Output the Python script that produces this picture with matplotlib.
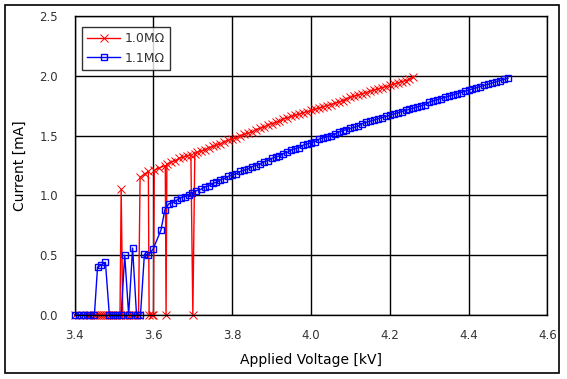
import matplotlib
matplotlib.use('Agg')
import matplotlib.pyplot as plt
from matplotlib.patches import Rectangle

# 1.0 MOhm series (kV, mA)
v_10 = [3.400, 3.410, 3.420, 3.430, 3.440, 3.450, 3.455, 3.460, 3.465, 3.470,
        3.475, 3.480, 3.485, 3.490, 3.495, 3.500, 3.505, 3.510, 3.515, 3.518,
        3.522, 3.530, 3.535, 3.540, 3.545, 3.550, 3.555, 3.562, 3.566, 3.578,
        3.587, 3.589, 3.597, 3.600, 3.602, 3.615, 3.630, 3.632, 3.634, 3.645,
        3.655, 3.665, 3.675, 3.685, 3.695, 3.700, 3.705,
        3.71, 3.72, 3.73, 3.74, 3.75, 3.76, 3.77, 3.78, 3.79, 3.80,
        3.81, 3.82, 3.83, 3.84, 3.85, 3.86, 3.87, 3.88, 3.89, 3.90,
        3.91, 3.92, 3.93, 3.94, 3.95, 3.96, 3.97, 3.98, 3.99, 4.00,
        4.01, 4.02, 4.03, 4.04, 4.05, 4.06, 4.07, 4.08, 4.09, 4.10,
        4.11, 4.12, 4.13, 4.14, 4.15, 4.16, 4.17, 4.18, 4.19, 4.20,
        4.21, 4.22, 4.23, 4.24, 4.25, 4.26]
i_10 = [0, 0, 0, 0, 0, 0, 0, 0, 0, 0,
        0, 0, 0, 0, 0, 0, 0, 0, 0, 1.05,
        0, 0, 0, 0, 0, 0, 0, 0, 1.15, 1.18,
        1.20, 0, 0, 0, 1.21, 1.23, 1.25, 0, 1.26, 1.28,
        1.29, 1.31, 1.32, 1.33, 1.34, 0, 1.35,
        1.36, 1.37, 1.38, 1.40, 1.41, 1.42, 1.43, 1.45, 1.46, 1.47,
        1.48, 1.50, 1.51, 1.52, 1.53, 1.55, 1.56, 1.57, 1.59, 1.60,
        1.61, 1.62, 1.64, 1.65, 1.66, 1.67, 1.68, 1.69, 1.70, 1.71,
        1.72, 1.73, 1.74, 1.75, 1.76, 1.77, 1.78, 1.79, 1.81, 1.82,
        1.83, 1.84, 1.85, 1.86, 1.87, 1.88, 1.89, 1.90, 1.91, 1.92,
        1.93, 1.94, 1.95, 1.96, 1.97, 1.99]

# 1.1 MOhm series (kV, mA)
v_11 = [3.40, 3.41, 3.42, 3.43, 3.44, 3.45, 3.458, 3.468, 3.478, 3.488,
        3.498, 3.508, 3.518, 3.527, 3.537, 3.547, 3.557, 3.567, 3.577, 3.587,
        3.599, 3.619, 3.629, 3.639, 3.649, 3.659, 3.669, 3.679, 3.689, 3.699,
        3.709,
        3.72, 3.73, 3.74, 3.75, 3.76, 3.77, 3.78, 3.79, 3.80,
        3.81, 3.82, 3.83, 3.84, 3.85, 3.86, 3.87, 3.88, 3.89, 3.90,
        3.91, 3.92, 3.93, 3.94, 3.95, 3.96, 3.97, 3.98, 3.99, 4.00,
        4.01, 4.02, 4.03, 4.04, 4.05, 4.06, 4.07, 4.08, 4.09, 4.10,
        4.11, 4.12, 4.13, 4.14, 4.15, 4.16, 4.17, 4.18, 4.19, 4.20,
        4.21, 4.22, 4.23, 4.24, 4.25, 4.26, 4.27, 4.28, 4.29, 4.30,
        4.31, 4.32, 4.33, 4.34, 4.35, 4.36, 4.37, 4.38, 4.39, 4.40,
        4.41, 4.42, 4.43, 4.44, 4.45, 4.46, 4.47, 4.48, 4.49, 4.50]
i_11 = [0, 0, 0, 0, 0, 0, 0.40, 0.42, 0.44, 0,
        0, 0, 0, 0.50, 0, 0.56, 0, 0, 0.51, 0.50,
        0.55, 0.71, 0.88, 0.93, 0.94, 0.96, 0.98, 0.99, 1.00, 1.02,
        1.04,
        1.05, 1.07, 1.08, 1.10, 1.11, 1.13, 1.14, 1.16, 1.17,
        1.18, 1.20, 1.21, 1.22, 1.24, 1.25, 1.26, 1.28, 1.29, 1.31,
        1.32, 1.33, 1.35, 1.36, 1.38, 1.39, 1.40, 1.42, 1.43, 1.44,
        1.45, 1.47, 1.48, 1.49, 1.50, 1.51, 1.53, 1.54, 1.55, 1.56,
        1.57, 1.58, 1.60, 1.61, 1.62, 1.63, 1.64, 1.65, 1.66, 1.67,
        1.68, 1.69, 1.70, 1.71, 1.72, 1.73, 1.74, 1.75, 1.76, 1.78,
        1.79, 1.80, 1.81, 1.82, 1.83, 1.84, 1.85, 1.86, 1.87, 1.88,
        1.89, 1.90, 1.91, 1.92, 1.93, 1.94, 1.95, 1.96, 1.97, 1.98]

x_ticks = [3.4, 3.6, 3.8, 4.0, 4.2, 4.4, 4.6]
y_ticks = [0.0, 0.5, 1.0, 1.5, 2.0, 2.5]

fig = plt.figure(figsize=(5.67, 3.79), dpi=100)
# outer chart frame
fig.patches.append(Rectangle((5 / 567, 1 - 372.5 / 379), 553.5 / 567, 367.5 / 379,
                             transform=fig.transFigure, fill=False,
                             edgecolor='black', linewidth=1.2))
ax = fig.add_axes([74.7 / 567, 1 - 315 / 379, 472.6 / 567, 299 / 379])

ax.plot(v_10, i_10, color='red', linewidth=1, marker='x', markersize=5.8,
        markeredgewidth=0.7, label='1.0M\u03a9', clip_on=False)
ax.plot(v_11, i_11, color='blue', linewidth=1, marker='s', markersize=4.3,
        markerfacecolor='none', markeredgewidth=1, label='1.1M\u03a9', clip_on=False)

ax.set_xlim(3.4, 4.6)
ax.set_ylim(0, 2.5)
ax.set_xticks(x_ticks)
ax.set_yticks(y_ticks)
ax.set_xticklabels(['%.1f' % t for t in x_ticks])
ax.set_yticklabels(['%.1f' % t for t in y_ticks])
ax.tick_params(length=0, labelsize=8.5, labelcolor='#333333', pad=12)
ax.tick_params(axis='x', pad=10)
ax.grid(True, color='black', linewidth=1)
ax.set_axisbelow(True)
for s in ax.spines.values():
    s.set_linewidth(1)

ax.set_xlabel('Applied Voltage [kV]', fontsize=10, labelpad=8)
ax.set_ylabel('Current [mA]', fontsize=10, labelpad=9)

leg = ax.legend(loc='upper left', bbox_to_anchor=(7.6 / 472.6, 1 - 11.3 / 299),
                fontsize=9, frameon=True, fancybox=False, borderpad=0.4,
                handlelength=2.6, labelspacing=0.5, borderaxespad=0,
                handletextpad=0.4)
leg.get_frame().set_edgecolor('black')
leg.get_frame().set_linewidth(1)
for t in leg.get_texts():
    t.set_color('#333333')

fig.savefig('out.png', dpi=100)
